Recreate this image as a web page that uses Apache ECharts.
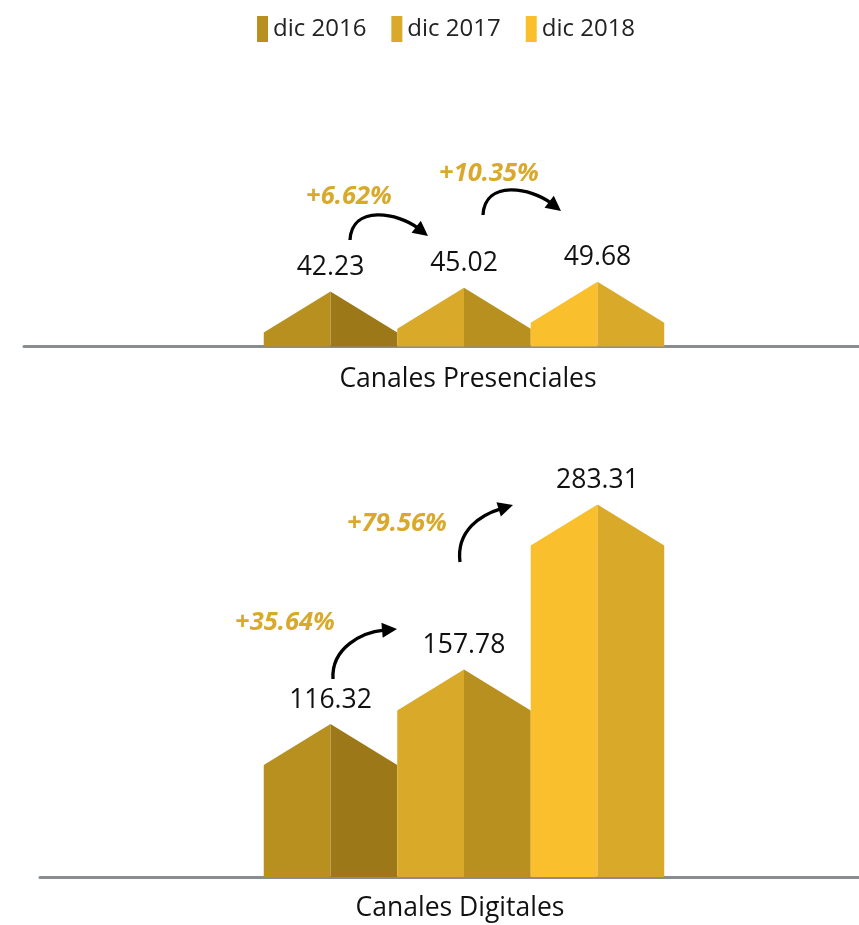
<!DOCTYPE html>
<html>
<head>
<meta charset="utf-8">
<script src="https://cdn.jsdelivr.net/npm/echarts@6/dist/echarts.min.js"></script>
<style>
html,body{margin:0;padding:0;background:#fff;}
#chart{width:859px;height:925px;}
</style>
</head>
<body>
<div id="chart"></div>
<script>
// ---- data ----
const years = ['dic 2016', 'dic 2017', 'dic 2018'];
const presenciales = [42.23, 45.02, 49.68];
const digitales = [116.32, 157.78, 283.31];
const growthPres = ['+6.62%', '+10.35%'];
const growthDig = ['+35.64%', '+79.56%'];
const panelTitles = ['Canales Presenciales', 'Canales Digitales'];

// ---- styles ----
const lightColors = ['#B8901F', '#D9A929', '#F9BF2C'];
const darkColors = ['#9C7818', '#B8901F', '#D9A929'];
const FONT = '"Open Sans", Lato, sans-serif';
const ROOF = 41;

const chart = echarts.init(document.getElementById('chart'));

function renderHouse(params, api) {
  const x = api.value(0), v = api.value(1), ci = api.value(2);
  const top = api.coord([x, v]);
  const base = api.coord([x, 0]);
  const w = api.size([1, 0])[0];
  const cx = top[0], L = cx - w / 2, R = cx + w / 2;
  const sh = top[1] + ROOF;
  return {
    type: 'group',
    children: [
      { type: 'polygon', shape: { points: [[L, base[1]], [L, sh], [cx, top[1]], [cx, base[1]]] },
        style: { fill: lightColors[ci] } },
      { type: 'polygon', shape: { points: [[cx, top[1]], [R, sh], [R, base[1]], [cx, base[1]]] },
        style: { fill: darkColors[ci] } },
      { type: 'text', x: cx, y: top[1] - 24,
        style: { text: v.toFixed(2), align: 'center', verticalAlign: 'middle',
                 font: '26.5px ' + FONT, fill: '#111' } }
    ]
  };
}

const panels = [presenciales, digitales];
const series = [];
panels.forEach((vals, p) => {
  vals.forEach((v, i) => {
    series.push({
      type: 'custom',
      name: years[i],
      xAxisIndex: p,
      yAxisIndex: p,
      itemStyle: { color: lightColors[i] },
      renderItem: renderHouse,
      data: [[i, v, i]]
    });
  });
});

function arrow(sx, sy, c1x, c1y, tx, ty, angDeg, c2len) {
  const a = angDeg * Math.PI / 180;
  const dx = Math.cos(a), dy = Math.sin(a);
  const hl = 15, hw = 7.5;
  const bx = tx - hl * dx, by = ty - hl * dy;
  const px = -dy, py = dx;
  const c2x = bx - c2len * dx, c2y = by - c2len * dy;
  return [
    { type: 'bezierCurve', z: 10,
      shape: { x1: sx, y1: sy, cpx1: c1x, cpy1: c1y, cpx2: c2x, cpy2: c2y, x2: bx + 2 * dx, y2: by + 2 * dy },
      style: { stroke: '#000', lineWidth: 3.3, fill: null, lineCap: 'butt' } },
    { type: 'polygon', z: 10,
      shape: { points: [[tx, ty], [bx + px * hw, by + py * hw], [bx - px * hw, by - py * hw]] },
      style: { fill: '#000' } }
  ];
}

function pctText(t, x, y) {
  return { type: 'text', x: x, y: y, z: 10,
    style: { text: t, align: 'center', verticalAlign: 'middle',
             font: 'italic bold 25.5px ' + FONT, fill: '#D9A92B' } };
}

const graphics = [].concat(
  arrow(350, 240, 352, 204, 428, 236, 38, 22),
  arrow(483, 215, 485, 179, 561, 211, 38, 22),
  arrow(333, 679, 331, 648, 397, 629, -5, 20),
  arrow(460, 562, 456, 530, 513, 505, -17, 18),
  [
    pctText(growthPres[0], 349, 197),
    pctText(growthPres[1], 489, 174),
    pctText(growthDig[0], 285, 623),
    pctText(growthDig[1], 397, 524),
    { type: 'text', x: 468, y: 379,
      style: { text: panelTitles[0], align: 'center', verticalAlign: 'middle', font: '26.5px ' + FONT, fill: '#111' } },
    { type: 'text', x: 460, y: 908,
      style: { text: panelTitles[1], align: 'center', verticalAlign: 'middle', font: '26.5px ' + FONT, fill: '#111' } }
  ]
);

const xAxisCommon = {
  type: 'value',
  axisLine: { show: true, lineStyle: { color: '#8A8D90', width: 3 } },
  axisTick: { show: false },
  axisLabel: { show: false },
  splitLine: { show: false }
};
const yAxisCommon = { type: 'value', min: 0, show: false, splitLine: { show: false } };

chart.setOption({
  animation: false,
  backgroundColor: '#fff',
  legend: {
    data: years,
    left: 257, top: 16,
    padding: 0,
    icon: 'rect',
    itemWidth: 11, itemHeight: 26,
    itemGap: 25,
    textStyle: { fontSize: 24, fontFamily: FONT, color: '#222' }
  },
  grid: [
    { left: 24, top: 216, width: 835, height: 130.5 },
    { left: 40, top: 482.5, width: 819, height: 394.5 }
  ],
  xAxis: [
    Object.assign({ gridIndex: 0, min: -2.296, max: 3.959 }, xAxisCommon),
    Object.assign({ gridIndex: 1, min: -2.176, max: 3.959 }, xAxisCommon)
  ],
  yAxis: [
    Object.assign({ gridIndex: 0, max: 100 }, yAxisCommon),
    Object.assign({ gridIndex: 1, max: 300 }, yAxisCommon)
  ],
  series: series,
  graphic: graphics
});
</script>
</body>
</html>
